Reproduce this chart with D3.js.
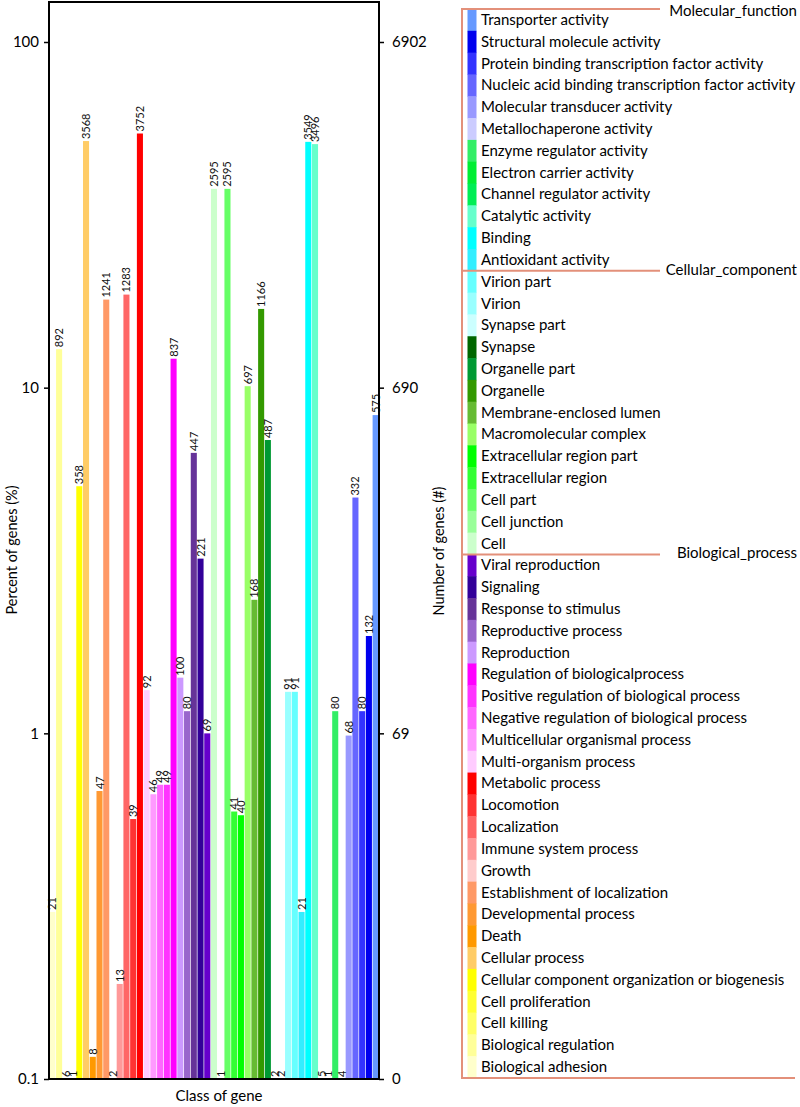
<!DOCTYPE html>
<html>
<head>
<meta charset="utf-8">
<script src="https://cdn.jsdelivr.net/npm/d3@7"></script>
<style>
  html, body { margin: 0; padding: 0; background: #fff; }
  svg { display: block; }
  text { font-family: Lato, "Open Sans", sans-serif; }
</style>
</head>
<body>
<svg id="chart" width="800" height="1107"></svg>
<script>
// ---- data (bar order, left to right) ----
const categories = [
  "Biological adhesion","Biological regulation","Cell killing","Cell proliferation",
  "Cellular component organization or biogenesis","Cellular process","Death",
  "Developmental process","Establishment of localization","Growth","Immune system process",
  "Localization","Locomotion","Metabolic process","Multi-organism process",
  "Multicellular organismal process","Negative regulation of biological process",
  "Positive regulation of biological process","Regulation of biologicalprocess",
  "Reproduction","Reproductive process","Response to stimulus","Signaling","Viral reproduction",
  "Cell","Cell junction","Cell part","Extracellular region","Extracellular region part",
  "Macromolecular complex","Membrane-enclosed lumen","Organelle","Organelle part",
  "Synapse","Synapse part","Virion","Virion part",
  "Antioxidant activity","Binding","Catalytic activity","Channel regulator activity",
  "Electron carrier activity","Enzyme regulator activity","Metallochaperone activity",
  "Molecular transducer activity","Nucleic acid binding transcription factor activity",
  "Protein binding transcription factor activity","Structural molecule activity",
  "Transporter activity"
];
const geneCounts = [
  21, 892, 6, 1, 358, 3568, 8, 47, 1241, 2, 13, 1283, 39, 3752, 92, 46, 49, 49, 837, 100, 80, 447, 221, 69,
  2595, 1, 2595, 41, 40, 697, 168, 1166, 487, 2, 2, 91, 91,
  21, 3549, 3496, 5, 1, 80, 4, 68, 332, 80, 132, 575
];
const barColors = [
  "#FFFFCC","#FFFF99","#FFFF66","#FFFF33","#FFFF00","#FFCC66","#FF9900","#FF9933","#FF9966","#FFCCCC",
  "#FF9999","#FF6666","#FF3333","#FF0000","#FFCCFF","#FF99FF","#FF66FF","#FF33FF","#FF00FF","#CC99FF",
  "#9966CC","#663399","#330099","#6600CC",
  "#CCFFCC","#99FF99","#66FF66","#33FF33","#00FF00","#99FF66","#66BB33","#339900","#009933","#006600",
  "#CCFFFF","#99FFFF","#66FFFF",
  "#33EEFF","#00FFFF","#66FFCC","#00EE55","#00EE33","#33EE66","#CCCCFF","#9999FF","#6666FF","#3333FF",
  "#0000EE","#6699FF"
];
const groupNames = ["Biological_process", "Cellular_component", "Molecular_function"];
const groupSizes = [24, 13, 12];
const totalGenes = 6902;
const percentTicks = [0.1, 1, 10, 100];
const percentTickLabels = ["0.1", "1", "10", "100"];
const countTickLabels = ["0", "69", "690", "6902"];

// ---- layout ----
const svg = d3.select("#chart");
const W = 800, H = 1107;
const plot = { left: 49, right: 379, top: 2, bottom: 1079 };

const x = d3.scaleBand().domain(categories).range([plot.left, plot.right])
  .paddingInner(0.1).paddingOuter(0.05);
const y = d3.scaleLog().domain([0.1, 100]).range([plot.bottom, 42]);
const pct = c => c / totalGenes * 100;
const barTop = c => pct(c) > 0.1 ? y(pct(c)) : plot.bottom;

svg.append("rect").attr("width", W).attr("height", H).attr("fill", "#fff");

// bars
const data = categories.map((c, i) => ({ cat: c, count: geneCounts[i], color: barColors[i] }));
svg.append("g").selectAll("rect").data(data).join("rect")
  .attr("x", d => x(d.cat))
  .attr("width", x.bandwidth())
  .attr("y", d => barTop(d.count))
  .attr("height", d => plot.bottom - barTop(d.count))
  .attr("fill", d => d.color);

// bar labels
svg.append("g").selectAll("text").data(data).join("text")
  .attr("transform", d => {
    const cx = x(d.cat) + x.bandwidth() / 2 + 4;
    const ty = barTop(d.count) - 2;
    return `translate(${cx},${ty}) rotate(-90)`;
  })
  .attr("font-size", 11)
  .attr("fill", "#111")
  .text(d => d.count);

// frame
svg.append("rect")
  .attr("x", plot.left).attr("y", plot.top)
  .attr("width", plot.right - plot.left).attr("height", plot.bottom - plot.top)
  .attr("fill", "none").attr("stroke", "#000").attr("stroke-width", 2);

// left axis
const leftAxis = d3.axisLeft(y).tickValues(percentTicks)
  .tickFormat((d, i) => percentTickLabels[i]).tickSize(5).tickSizeOuter(0);
const gl = svg.append("g").attr("transform", `translate(${plot.left},0)`).call(leftAxis);
gl.select(".domain").remove();
gl.selectAll("line").attr("stroke", "#000").attr("stroke-width", 1.5);
gl.selectAll("text").attr("font-size", 15).attr("fill", "#000").attr("x", -10)
  .style("font-family", "Lato, sans-serif");

// right axis
const rightAxis = d3.axisRight(y).tickValues(percentTicks)
  .tickFormat((d, i) => countTickLabels[i]).tickSize(5).tickSizeOuter(0);
const gr = svg.append("g").attr("transform", `translate(${plot.right},0)`).call(rightAxis);
gr.select(".domain").remove();
gr.selectAll("line").attr("stroke", "#000").attr("stroke-width", 1.5);
gr.selectAll("text").attr("font-size", 15).attr("fill", "#000").attr("x", 13)
  .style("font-family", "Lato, sans-serif");

// axis titles
svg.append("text").attr("transform", "translate(17,550) rotate(-90)")
  .attr("text-anchor", "middle").attr("font-size", 14.5).text("Percent of genes (%)");
svg.append("text").attr("transform", "translate(444,551) rotate(-90)")
  .attr("text-anchor", "middle").attr("font-size", 14.5).text("Number of genes (#)");
svg.append("text").attr("x", 219).attr("y", 1101)
  .attr("text-anchor", "middle").attr("font-size", 15).text("Class of gene");

// ---- legend ----
const legendTop = 9, legendBottom = 1078;
const legendCats = categories.slice().reverse();
const legendColors = barColors.slice().reverse();
const ly = d3.scaleBand().domain(legendCats).range([legendTop, legendBottom]);
const bracket = "#E3907A";
const lg = svg.append("g");
lg.selectAll("rect").data(legendCats).join("rect")
  .attr("x", 467.5).attr("width", 9)
  .attr("y", d => ly(d)).attr("height", ly.bandwidth() + 0.5)
  .attr("fill", (d, i) => legendColors[i]);
lg.selectAll("text").data(legendCats).join("text")
  .attr("x", 481).attr("y", d => ly(d) + ly.bandwidth() / 2 + 5)
  .attr("font-size", 15).attr("fill", "#000")
  .text(d => d);

// bracket lines
lg.append("line").attr("x1", 462).attr("x2", 462)
  .attr("y1", legendTop).attr("y2", legendBottom)
  .attr("stroke", bracket).attr("stroke-width", 2);
lg.append("line").attr("x1", 461).attr("x2", 795)
  .attr("y1", legendBottom).attr("y2", legendBottom)
  .attr("stroke", bracket).attr("stroke-width", 2);
// groups in legend order (top to bottom): reversed
let cum = 0;
const groupsTopDown = groupNames.map((g, i) => ({ name: g, size: groupSizes[i] })).reverse();
groupsTopDown.forEach(g => {
  const yy = ly(legendCats[cum]);
  lg.append("line").attr("x1", 461).attr("x2", 660).attr("y1", yy).attr("y2", yy)
    .attr("stroke", bracket).attr("stroke-width", 2);
  lg.append("text").attr("x", 797).attr("y", Math.max(yy + 4, 16)).attr("text-anchor", "end")
    .attr("font-size", 15).attr("fill", "#000").text(g.name);
  cum += g.size;
});
</script>
</body>
</html>
